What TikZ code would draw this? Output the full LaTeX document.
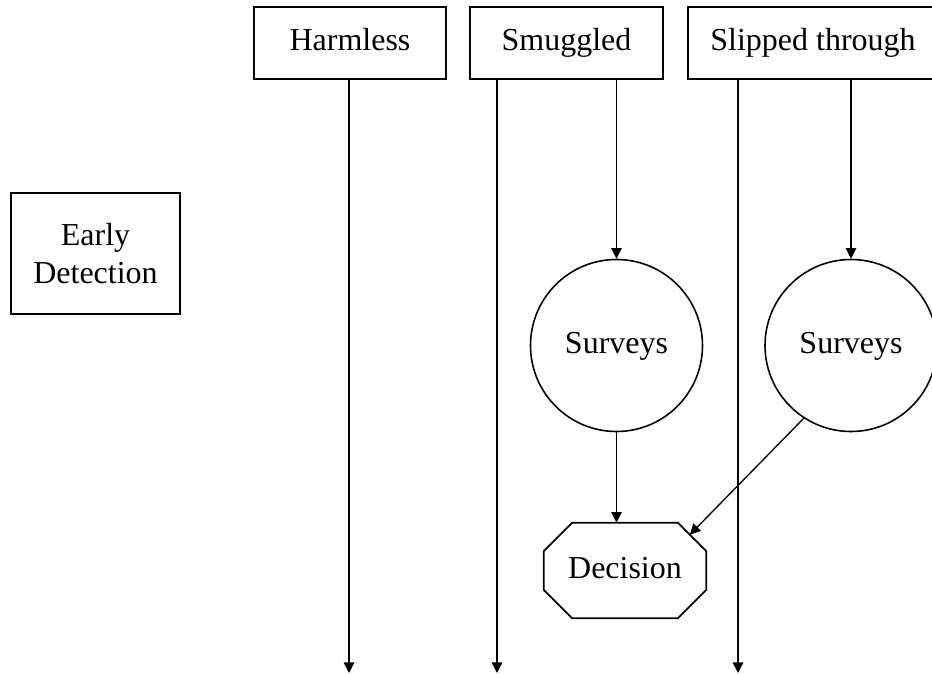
\documentclass[tikz,border=0pt]{standalone}
\usepackage{fontspec}
\setmainfont{Liberation Serif}
\usetikzlibrary{arrows.meta}

\begin{document}
\begin{tikzpicture}[font=\fontsize{18.2}{21.5}\selectfont,
		box/.style={draw, rectangle, line width=1pt, inner sep=0pt, text height=0.9em, text depth=0pt},
		survey/.style={draw, circle, line width=0.9pt, minimum size=3.44cm, inner sep=0pt, text height=0.9em, text depth=0pt},
		arr/.style={-{Triangle[length=6pt,width=6pt]}, line width=0.75pt}]
				\useasboundingbox (0,0) rectangle (18.64,-13.48);
				\node[box, minimum width=3.84cm, minimum height=1.44cm] (H)at(7.0, -0.86) {Harmless};
				\node[box, minimum width=3.86cm, minimum height=1.44cm] (S)at(11.33, -0.86) {Smuggled};
				\node[box, minimum width=5.0cm, minimum height=1.44cm] (T)at(16.26, -0.86) {Slipped through};
				\node[draw, rectangle, line width=1pt, minimum width=3.38cm, minimum height=2.42cm, align=center] (E)at(1.91, -5.07) {Early\\Detection};
				\node[survey] (S1)at(12.33, -6.91) {Surveys};
				\node[survey] (S2)at(17.02, -6.91) {Surveys};
				\node[inner sep=0pt, text height=0.9em, text depth=0pt, minimum width=3.24cm, minimum height=1.9cm] (D)at(12.5, -11.41) {Decision};
				% octagon round the decision
				\draw[line width=1pt] ([xshift=0.57cm]D.north west) -- ([xshift=-0.57cm]D.north east) -- ([yshift=-0.57cm]D.north east)
					-- ([yshift=0.57cm]D.south east) -- ([xshift=-0.57cm]D.south east) -- ([xshift=0.57cm]D.south west)
					-- ([yshift=0.57cm]D.south west) -- ([yshift=-0.57cm]D.north west) -- cycle;
				\coordinate (Dne)at([xshift=-0.33cm, yshift=-0.24cm]D.north east);
				\coordinate (h)at(6.98, -13.46);
				\coordinate (s)at(9.94, -13.46);
				\coordinate (t)at(14.76, -13.46);
				\draw[arr] (H.south -| h) -- (h);
				\draw[arr] (S.south -| s) -- (s);
				\draw[arr] (T.south -| t) -- (t);
				\draw[arr] (S.south -| S1) -- (S1.north);
				\draw[arr] (T.south -| S2) -- (S2.north);
				\draw[arr] (S1.south) -- (S1.south |- D.north);
				\draw[arr] (S2.237) -- (Dne);
			\end{tikzpicture}
\end{document}
